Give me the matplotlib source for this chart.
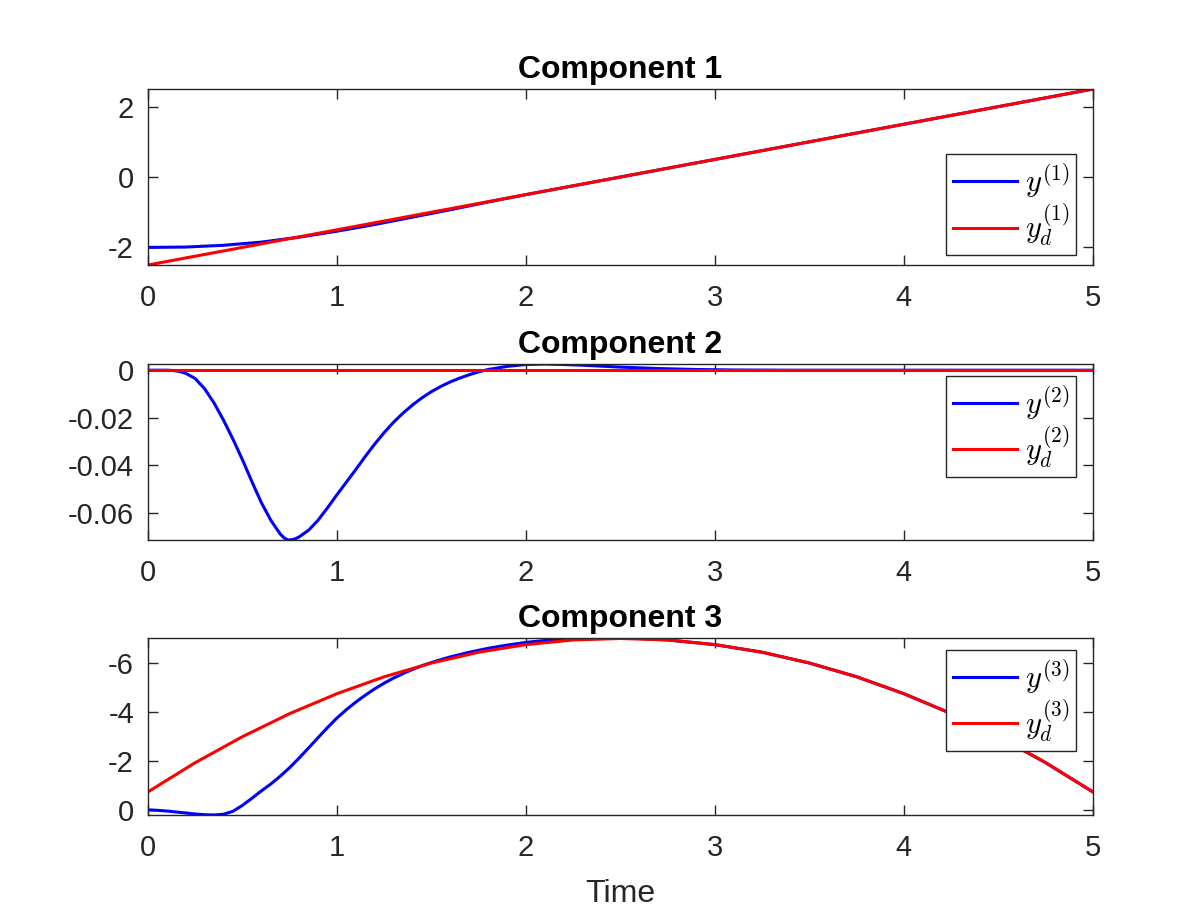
import matplotlib
matplotlib.use('Agg')
import matplotlib.pyplot as plt

plt.rcParams['font.family'] = ['Liberation Sans', 'DejaVu Sans']
plt.rcParams['mathtext.fontset'] = 'cm'
plt.rcParams['axes.unicode_minus'] = False

# Componente 1
t1_ref = [0.0, 5.0]
yd1 = [-2.5, 2.5]
t1 = [0.0, 0.2, 0.4, 0.6, 0.8, 1.0, 1.2, 1.4, 1.6, 1.8, 2.0, 2.5, 5.0]
y1 = [-2.0, -1.99, -1.94, -1.85, -1.71, -1.54, -1.35, -1.14, -0.93, -0.71, -0.5, 0.0, 2.5]

# Componente 2
t2_ref = [0.0, 5.0]
yd2 = [0.0, 0.0]
t2 = [0.0, 0.1, 0.125, 0.15, 0.175, 0.2, 0.25, 0.3, 0.35, 0.4, 0.45, 0.5, 0.55, 0.6,
      0.65, 0.7, 0.72, 0.74, 0.76, 0.78, 0.8, 0.85, 0.9, 0.95, 1.0, 1.05, 1.1,
      1.15, 1.2, 1.25, 1.3, 1.35, 1.4, 1.45, 1.5, 1.55, 1.6, 1.65, 1.7, 1.75,
      1.8, 1.9, 2.0, 2.1, 2.2, 2.3, 2.5, 2.7, 2.9, 3.1, 3.4, 5.0]
y2 = [0.0, 0.0, -0.0001, -0.0003, -0.0007, -0.0013, -0.0035, -0.0078, -0.0138, -0.0210,
      -0.0290, -0.0376, -0.0468, -0.0556, -0.0630, -0.0688, -0.0704, -0.0713,
      -0.0712, -0.0708, -0.0700, -0.0672, -0.0630, -0.0578, -0.0523, -0.0470,
      -0.0417, -0.0362, -0.0310, -0.0262, -0.0218, -0.0180, -0.0146, -0.0116,
      -0.0090, -0.0068, -0.0049, -0.0033, -0.0019, -0.0007, 0.0003, 0.0016,
      0.0024, 0.0026, 0.0024, 0.0021, 0.0013, 0.0007, 0.0003, 0.0001, 0.0, 0.0]

# Componente 3
t3_ref = [0.0, 0.25, 0.5, 0.75, 1.0, 1.25, 1.5, 1.75, 2.0, 2.25, 2.5, 2.75, 3.0,
          3.25, 3.5, 3.75, 4.0, 4.25, 4.5, 4.75, 5.0]
yd3 = [-0.75, -1.94, -3.0, -3.94, -4.75, -5.44, -6.0, -6.44, -6.75, -6.94, -7.0,
       -6.94, -6.75, -6.44, -6.0, -5.44, -4.75, -3.94, -3.0, -1.94, -0.75]
t3 = [0.0, 0.05, 0.1, 0.15, 0.2, 0.25, 0.3, 0.35, 0.4, 0.45, 0.5, 0.55, 0.6,
      0.65, 0.7, 0.75, 0.8, 0.85, 0.9, 0.95, 1.0, 1.05, 1.1, 1.15, 1.2, 1.25,
      1.3, 1.35, 1.4, 1.45, 1.5, 1.55, 1.6, 1.7, 1.8, 1.9, 2.0, 2.1, 2.2, 2.3,
      2.4, 2.5, 2.6, 2.75, 3.0, 3.25, 3.5, 3.75, 4.0, 4.25, 4.5, 4.75, 5.0]
y3 = [-0.02, 0.0, 0.03, 0.07, 0.11, 0.15, 0.18, 0.19, 0.16, 0.04, -0.20, -0.49,
      -0.79, -1.07, -1.39, -1.74, -2.13, -2.54, -2.96, -3.37, -3.76, -4.10,
      -4.41, -4.69, -4.95, -5.18, -5.39, -5.57, -5.74, -5.89, -6.02, -6.14,
      -6.25, -6.44, -6.60, -6.73, -6.84, -6.92, -6.97, -7.0, -7.02, -7.02, -7.0,
      -6.94, -6.75, -6.44, -6.0, -5.44, -4.75, -3.94, -3.0, -1.94, -0.75]

yticks1 = [-2, 0, 2]
yticks2 = [-0.06, -0.04, -0.02, 0]
yticks3 = [-6, -4, -2, 0]
xticks = [0, 1, 2, 3, 4, 5]

componentes = [
    (t1, y1, t1_ref, yd1, yticks1, 1),
    (t2, y2, t2_ref, yd2, yticks2, 2),
    (t3, y3, t3_ref, yd3, yticks3, 3),
]

fig = plt.figure(figsize=(11.96, 9.16), dpi=100)
posiciones = [
    [0.1237, 0.7107, 0.7901, 0.1921],
    [0.1237, 0.4105, 0.7901, 0.1921],
    [0.1237, 0.1103, 0.7901, 0.1932],
]
gris = '#262626'

for (t, y, tr, yd, yt, k), pos in zip(componentes, posiciones):
    ax = fig.add_axes(pos)
    ax.plot(t, y, color='#0000ff', lw=2.2, label=r'$y^{(%d)}$' % k)
    ax.plot(tr, yd, color='#ff0000', lw=2.2, label=r'$y_d^{(%d)}$' % k)
    ax.set_xlim(0, 5)
    if k == 1:
        ax.set_ylim(-2.5, 2.5)
    elif k == 2:
        ax.set_ylim(min(y), max(y))
    else:
        ax.set_ylim(max(y), min(y))
    ax.set_xticks(xticks)
    ax.set_yticks(yt)
    ax.set_yticklabels([('%g' % v) for v in yt])
    ax.tick_params(direction='in', length=7, width=1, top=True, right=True,
                   labelsize=21, colors=gris, pad=14)
    ax.tick_params(axis='y', pad=10)
    for s in ax.spines.values():
        s.set_color(gris)
        s.set_linewidth(1)
    ax.set_title('Component %d' % k, fontsize=23, fontweight='bold', pad=8)
    if k == 1:
        leg = ax.legend(loc='lower right', bbox_to_anchor=(0.982, 0.057),
                        borderaxespad=0, fontsize=22, fancybox=False,
                        edgecolor=gris, framealpha=1, handlelength=2.1,
                        labelspacing=0.05, borderpad=0.22, handletextpad=0.25)
    else:
        leg = ax.legend(loc='upper right', bbox_to_anchor=(0.982, 0.932),
                        borderaxespad=0, fontsize=22, fancybox=False,
                        edgecolor=gris, framealpha=1, handlelength=2.1,
                        labelspacing=0.05, borderpad=0.22, handletextpad=0.25)
    leg.get_frame().set_linewidth(1)
    if k == 3:
        ax.set_xlabel('Time', fontsize=23, color=gris, labelpad=12)

fig.savefig('out.png', dpi=100)
